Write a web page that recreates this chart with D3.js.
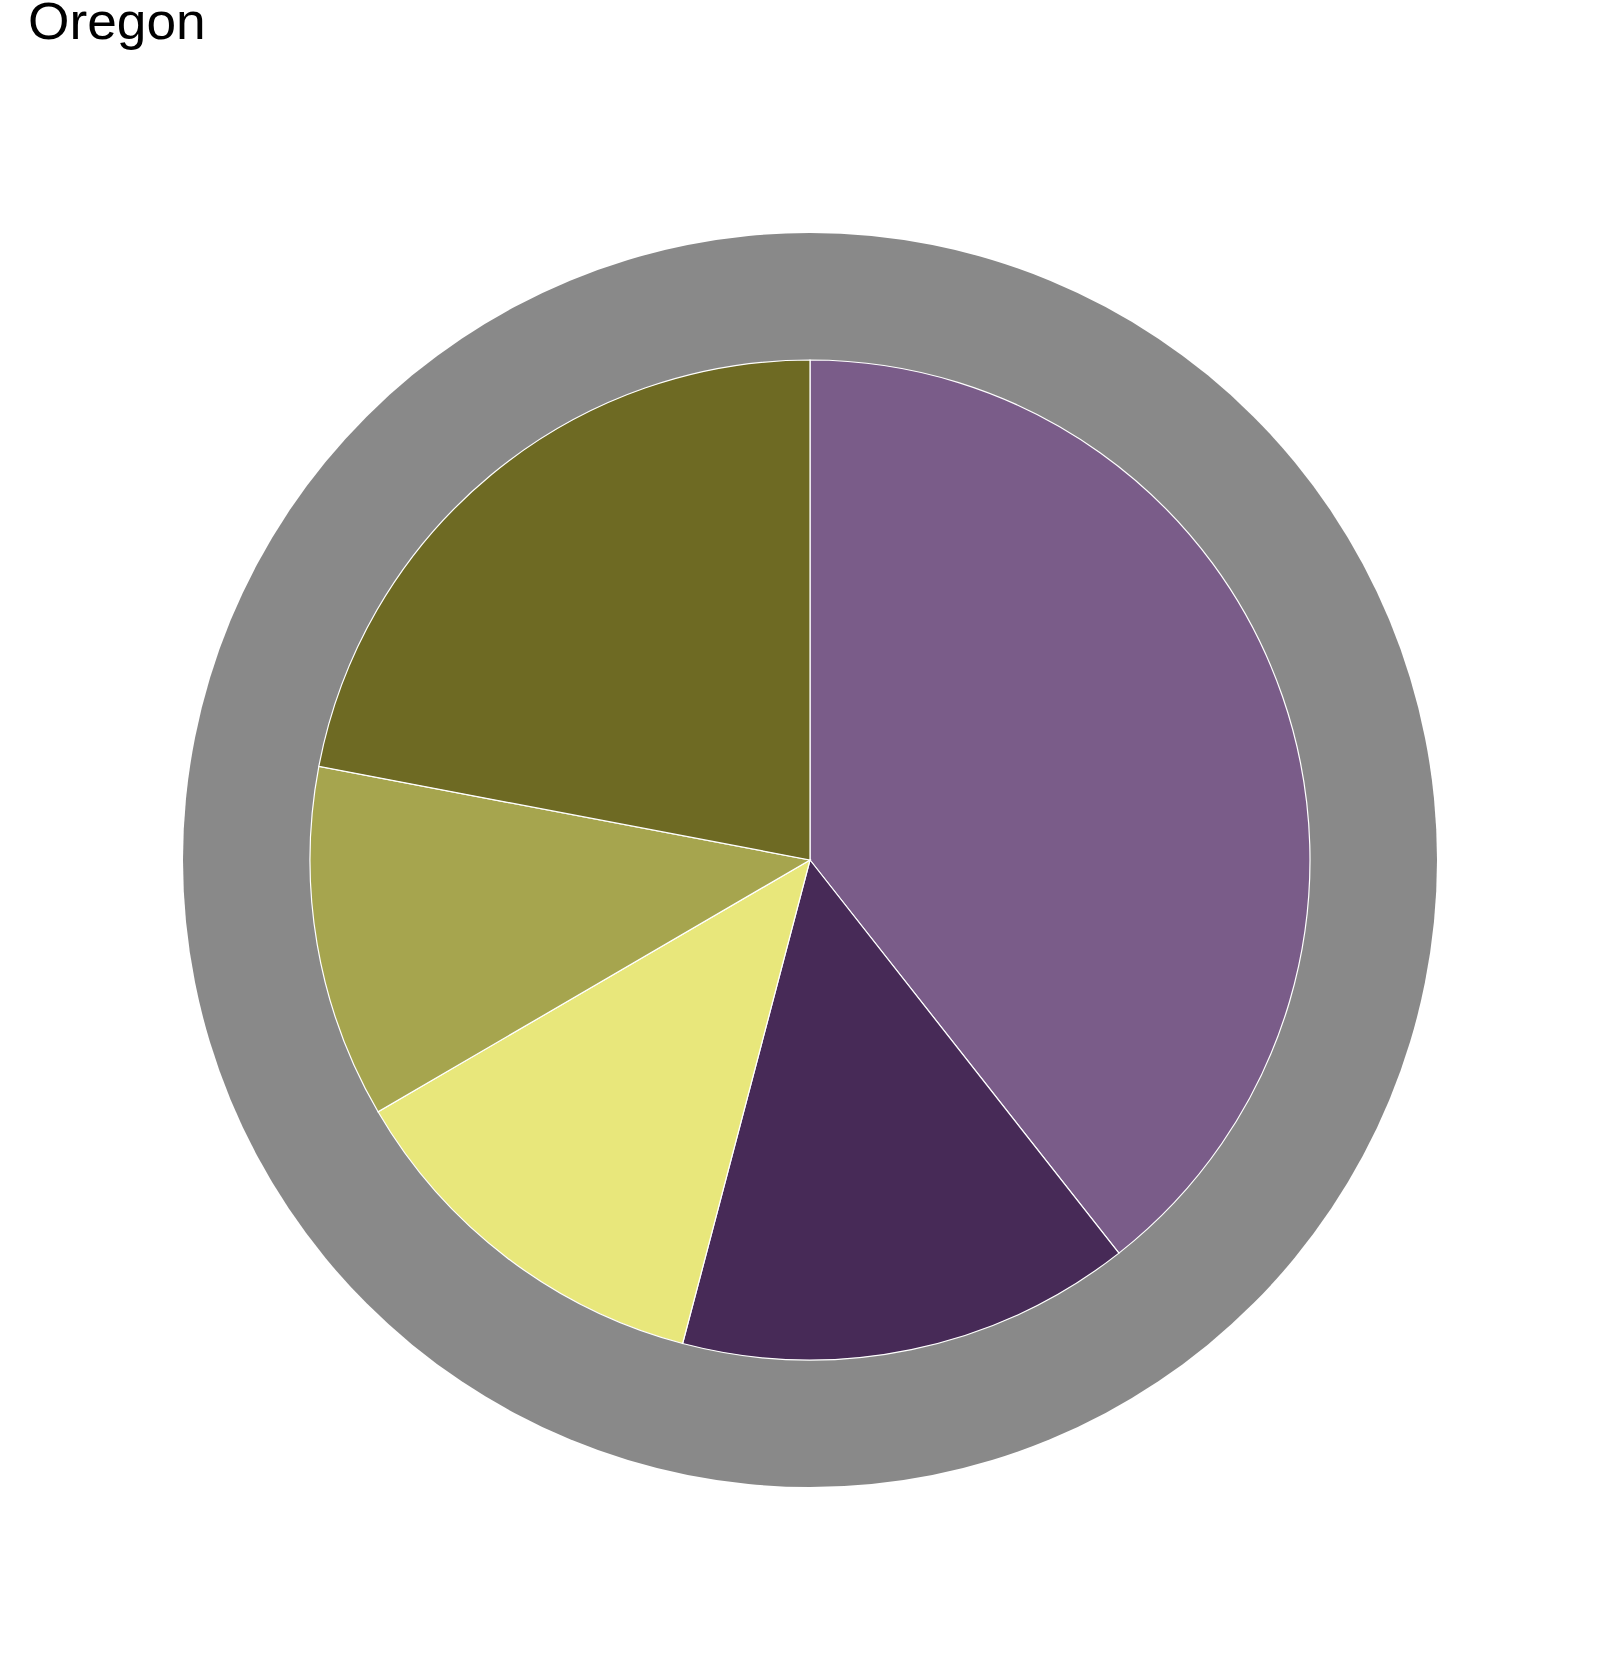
<!DOCTYPE html>
<html>
<head>
<meta charset="utf-8">
<script src="https://cdn.jsdelivr.net/npm/d3@7"></script>
<style>
  body { margin: 0; background: #fff; }
  svg { display: block; }
</style>
</head>
<body>
<svg width="1608" height="1654"></svg>
<script>
// slice shares (percent), clockwise from 12 o'clock
var categories = ["A", "B", "C", "D", "E"];
var values = [39.4, 14.7, 12.5, 11.4, 22.0];
var colors = ["#7a5c89", "#472a57", "#e8e77b", "#a6a54e", "#6e6a23"];
var title = "Oregon";

var svg = d3.select("svg");
var cx = 810, cy = 860;
var outerR = 627, innerR = 500;

// title is a bit wider than plain Liberation Sans, so stretch it slightly
svg.append("text")
  .attr("transform", "translate(28,38.5) scale(1.045,1)")
  .attr("font-family", "Liberation Sans, Arial, sans-serif")
  .attr("font-size", 51)
  .attr("fill", "#000")
  .text(title);

var g = svg.append("g").attr("transform", "translate(" + cx + "," + cy + ")");

// gray ring behind
g.append("circle")
  .attr("r", outerR)
  .attr("fill", "#898989");

var pie = d3.pie().sort(null).value(function(d) { return d; });
var arc = d3.arc().innerRadius(0).outerRadius(innerR);

g.selectAll("path.slice")
  .data(pie(values))
  .enter().append("path")
  .attr("class", "slice")
  .attr("d", arc)
  .attr("fill", function(d, i) { return colors[i]; })
  .attr("stroke", "#fff")
  .attr("stroke-width", 1.2);
</script>
</body>
</html>
